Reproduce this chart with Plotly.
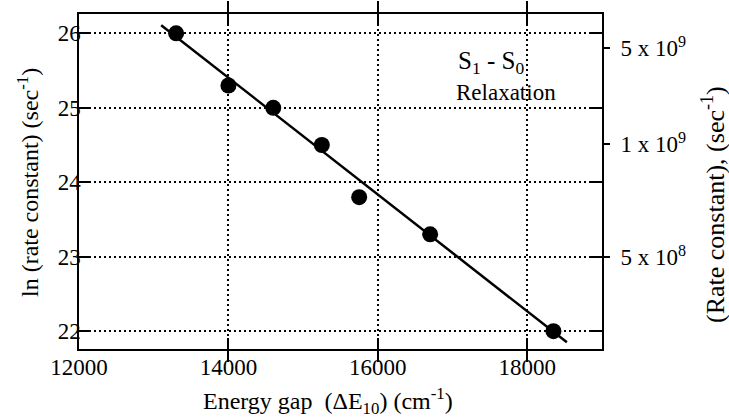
import plotly.graph_objects as go

# Measured S1-S0 relaxation rates versus the energy gap
energy_gap = [13300, 14000, 14600, 15250, 15750, 16700, 18350]
ln_rate = [26.0, 25.3, 25.0, 24.5, 23.8, 23.3, 22.0]

# End points of the fitted straight line
fit_gap = [13100, 18530]
fit_ln_rate = [26.11, 21.85]

x_ticks = [12000, 14000, 16000, 18000]
y_ticks = [22, 23, 24, 25, 26]

# Right-hand axis labels (placed in ln units of the left axis)
rate_tick_pos = [25.8, 24.51, 22.99]
rate_tick_text = ["5 x 10<sup>9</sup>", "1 x 10<sup>9</sup>", "5 x 10<sup>8</sup>"]

X_RANGE = [12000, 19000]
Y_RANGE = [21.76, 26.26]

# plot-area geometry in pixels
W, H = 729, 417
L, R, T, B = 79, 127, 14, 68
PW, PH = W - L - R, H - T - B


def px_x(px):
    return (px - L) / PW


def px_y(py):
    return (H - B - py) / PH


SERIF = "Liberation Serif, Times New Roman, serif"
tick_font = dict(family=SERIF, size=23, color="black")

fig = go.Figure()

fig.add_trace(go.Scatter(
    x=fit_gap, y=fit_ln_rate, mode="lines",
    line=dict(color="black", width=2.5),
    showlegend=False, hoverinfo="skip",
))
fig.add_trace(go.Scatter(
    x=energy_gap, y=ln_rate, mode="markers",
    marker=dict(color="black", size=16, line=dict(width=0)),
    showlegend=False,
))
# carrier trace for the right-hand axis
fig.add_trace(go.Scatter(
    x=[None], y=[None], yaxis="y2", mode="markers",
    showlegend=False, hoverinfo="skip",
))

axis_common = dict(
    showline=True, linecolor="black", linewidth=1.5,
    ticks="inside", ticklen=11, tickwidth=1.5, tickcolor="black",
    mirror="allticks",
    showgrid=True, gridcolor="black", gridwidth=1.5, griddash="2px,3px",
    zeroline=False, tickfont=tick_font, automargin=False,
)

fig.update_layout(
    width=W, height=H,
    margin=dict(l=L, r=R, t=T, b=B),
    paper_bgcolor="white", plot_bgcolor="white",
    xaxis=dict(range=X_RANGE, tickvals=x_ticks, tickformat="d",
               ticklabelstandoff=-3, **axis_common),
    yaxis=dict(range=Y_RANGE, tickvals=y_ticks, ticklabelstandoff=-8, **axis_common),
    yaxis2=dict(
        overlaying="y", side="right", range=Y_RANGE,
        tickvals=rate_tick_pos, ticktext=rate_tick_text,
        ticks="outside", ticklen=7, tickwidth=1.5, tickcolor="black",
        ticklabelstandoff=6, automargin=False,
        showline=False, showgrid=False, zeroline=False, tickfont=tick_font,
    ),
    annotations=[
        # axis titles
        dict(x=px_x(328), y=px_y(382), xref="paper", yref="paper",
             xanchor="center", yanchor="top", showarrow=False,
             text="Energy gap&nbsp; (ΔE<sub>10</sub>) (cm<sup>-1</sup>)",
             font=dict(family=SERIF, size=24, color="black")),
        dict(x=px_x(28), y=px_y(183), xref="paper", yref="paper",
             xanchor="center", yanchor="middle", showarrow=False, textangle=-90,
             text="ln (rate constant) (sec<sup>-1</sup>)",
             font=dict(family=SERIF, size=24, color="black")),
        dict(x=px_x(713), y=px_y(205), xref="paper", yref="paper",
             xanchor="center", yanchor="middle", showarrow=False, textangle=-90,
             text="(Rate constant), (sec<sup>-1</sup>)",
             font=dict(family=SERIF, size=26, color="black")),
        # in-plot label
        dict(x=17515, y=25.61, xref="x", yref="y", xanchor="center", yanchor="middle",
             text="S<sub>1</sub> - S<sub>0</sub>", showarrow=False,
             font=dict(family=SERIF, size=25, color="black")),
        dict(x=17716, y=25.20, xref="x", yref="y", xanchor="center", yanchor="middle",
             text="Relaxation", showarrow=False,
             font=dict(family=SERIF, size=23, color="black")),
    ],
)

fig.write_html("out.html")
